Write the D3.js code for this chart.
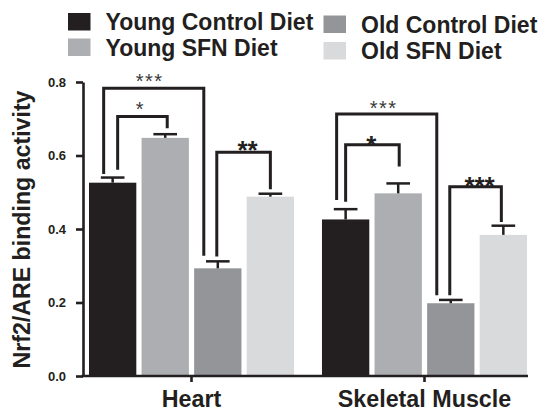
<!DOCTYPE html>
<html>
<head>
<meta charset="utf-8">
<script src="https://cdn.jsdelivr.net/npm/d3@7"></script>
<style>
  html, body { margin: 0; padding: 0; background: #fff; }
  svg { display: block; font-family: "Liberation Sans", Arial, Helvetica, sans-serif; }
</style>
</head>
<body>
<script>
// Nrf2/ARE binding activity by tissue and diet group (mean ± SEM)
const categories = ["Heart", "Skeletal Muscle"];
const seriesNames = ["Young Control Diet", "Young SFN Diet", "Old Control Diet", "Old SFN Diet"];
const heartMeans = [0.526, 0.648, 0.293, 0.488];
const heartSEM = [0.014, 0.010, 0.019, 0.008];
const muscleMeans = [0.426, 0.497, 0.198, 0.384];
const muscleSEM = [0.028, 0.027, 0.009, 0.025];
const yTicks = [0, 0.2, 0.4, 0.6, 0.8];

// Significance brackets: bar pair, bracket height and leg ends (in activity units)
const sigCategory = ["Heart", "Heart", "Heart", "Skeletal Muscle", "Skeletal Muscle", "Skeletal Muscle"];
const sigFrom = [0, 0, 2, 0, 0, 2];
const sigTo = [2, 1, 3, 2, 1, 3];
const sigLabel = ["***", "*", "**", "***", "*", "***"];
const sigTop = [0.783, 0.706, 0.609, 0.713, 0.629, 0.515];
const sigFromEnd = [0.550, 0.561, 0.325, 0.479, 0.474, 0.220];
const sigToEnd = [0.327, 0.674, 0.508, 0.220, 0.570, 0.419];

const ink = "#231f20";
const colors = ["#231f20", "#adaeb1", "#939598", "#d9dadc"];

const W = 541, H = 412;
const svg = d3.select("body").append("svg").attr("width", W).attr("height", H);

const plotLeft = 83, plotRight = 528, plotBottom = 376, plotTop = 82;

const y = d3.scaleLinear().domain([0, 0.8]).range([plotBottom, plotTop]);
const x0 = d3.scaleBand().domain(categories).range([89, 527]).paddingInner(0.12).paddingOuter(0);
const x1 = d3.scaleBand().domain(d3.range(seriesNames.length)).range([0, x0.bandwidth()]).paddingInner(0.1);

const groups = [
  { cat: categories[0], means: heartMeans, sem: heartSEM },
  { cat: categories[1], means: muscleMeans, sem: muscleSEM }
];

// Bars
const gBars = svg.append("g");
groups.forEach(g => {
  gBars.selectAll(null)
    .data(g.means)
    .enter().append("rect")
    .attr("x", (d, i) => x0(g.cat) + x1(i))
    .attr("y", d => y(d))
    .attr("width", x1.bandwidth())
    .attr("height", d => y(0) - y(d))
    .attr("fill", (d, i) => colors[i]);
});

// Error bars (upper whisker only)
const gErr = svg.append("g").attr("stroke", ink).attr("stroke-width", 2.5);
groups.forEach(g => {
  g.means.forEach((m, i) => {
    const cx = x0(g.cat) + x1(i) + x1.bandwidth() / 2;
    const capHalf = x1.bandwidth() / 4;
    gErr.append("line").attr("x1", cx).attr("x2", cx).attr("y1", y(m)).attr("y2", y(m + g.sem[i]));
    gErr.append("line").attr("x1", cx - capHalf).attr("x2", cx + capHalf)
      .attr("y1", y(m + g.sem[i])).attr("y2", y(m + g.sem[i]));
  });
});

// Axes
const yAxis = svg.append("g")
  .attr("transform", `translate(${plotLeft},0)`)
  .call(d3.axisLeft(y).tickValues(yTicks).tickFormat(d3.format(".1f")).tickSize(7).tickSizeOuter(0).tickPadding(10));
yAxis.select(".domain").attr("stroke", ink).attr("stroke-width", 2.6);
yAxis.selectAll(".tick line").attr("stroke", ink).attr("stroke-width", 2.6);
yAxis.selectAll(".tick text").attr("fill", ink).attr("font-size", 13).attr("font-weight", "bold")
  .attr("font-family", "'Liberation Sans', Arial, sans-serif");

const xAxis = svg.append("g")
  .attr("transform", `translate(0,${plotBottom})`)
  .call(d3.axisBottom(x0).tickSize(6).tickSizeOuter(0).tickPadding(8.5));
xAxis.select(".domain").remove();
xAxis.selectAll(".tick line").attr("stroke", ink).attr("stroke-width", 2.6);
xAxis.selectAll(".tick text").attr("fill", ink).attr("font-size", 23.3).attr("font-weight", "bold")
  .attr("font-family", "'Liberation Sans', Arial, sans-serif");
svg.append("line")
  .attr("x1", plotLeft - 1.3).attr("x2", plotRight)
  .attr("y1", plotBottom).attr("y2", plotBottom)
  .attr("stroke", ink).attr("stroke-width", 2.6);

// Y axis title
svg.append("text")
  .attr("transform", `translate(29.5,${(plotTop + plotBottom) / 2 + 0.5}) rotate(-90)`)
  .attr("text-anchor", "middle")
  .attr("font-size", 23).attr("font-weight", "bold").attr("fill", ink)
  .attr("textLength", 278).attr("lengthAdjust", "spacingAndGlyphs")
  .text("Nrf2/ARE binding activity");

// Significance brackets; leg nudges keep overlapping brackets apart
const sigLayout = [
  { left: -9, right: -14, gap: 11.6, big: false, dx: -4 },
  { left: 5, right: 2, gap: 11.7, big: false, dx: -2 },
  { left: -1, right: 0, gap: 8.3, big: true, dx: 4 },
  { left: -9, right: -14, gap: 10.7, big: false, dx: -3 },
  { left: 0, right: 1, gap: 6, big: true, dx: -1 },
  { left: -1, right: -2, gap: 6.7, big: true, dx: 4 }
];
const gSig = svg.append("g");
sigLabel.forEach((lab, k) => {
  const L = sigLayout[k];
  const cat = sigCategory[k];
  const xa = x0(cat) + x1(sigFrom[k]) + x1.bandwidth() / 2 + L.left;
  const xb = x0(cat) + x1(sigTo[k]) + x1.bandwidth() / 2 + L.right;
  gSig.append("path")
    .attr("d", `M${xa},${y(sigFromEnd[k])}V${y(sigTop[k])}H${xb}V${y(sigToEnd[k])}`)
    .attr("fill", "none").attr("stroke", ink).attr("stroke-width", 3);
  const size = L.big ? 26 : 20;
  const cy = y(sigTop[k]) - L.gap;
  gSig.append("text")
    .attr("x", (xa + xb) / 2 + L.dx)
    .attr("y", cy + 0.58 * size)
    .attr("text-anchor", "middle")
    .attr("font-size", size)
    .attr("font-weight", L.big ? "bold" : "normal")
    .attr("letter-spacing", L.big ? 0 : 1.5)
    .attr("fill", L.big ? ink : "#3a3a3a")
    .text(lab);
});

// Legend: two columns, two rows
const legendCols = [68, 323.5];
const legendRows = [[13, 38.5], [15.5, 42]];
const gLeg = svg.append("g");
seriesNames.forEach((name, i) => {
  const col = Math.floor(i / 2), row = i % 2;
  const sx = legendCols[col], sy = legendRows[col][row];
  gLeg.append("rect").attr("x", sx).attr("y", sy).attr("width", 22.5).attr("height", 17.5).attr("fill", colors[i]);
  gLeg.append("text")
    .attr("x", sx + 37.5).attr("y", sy + 17)
    .attr("font-size", 23).attr("font-weight", "bold").attr("fill", ink)
    .text(name);
});
</script>
</body>
</html>
